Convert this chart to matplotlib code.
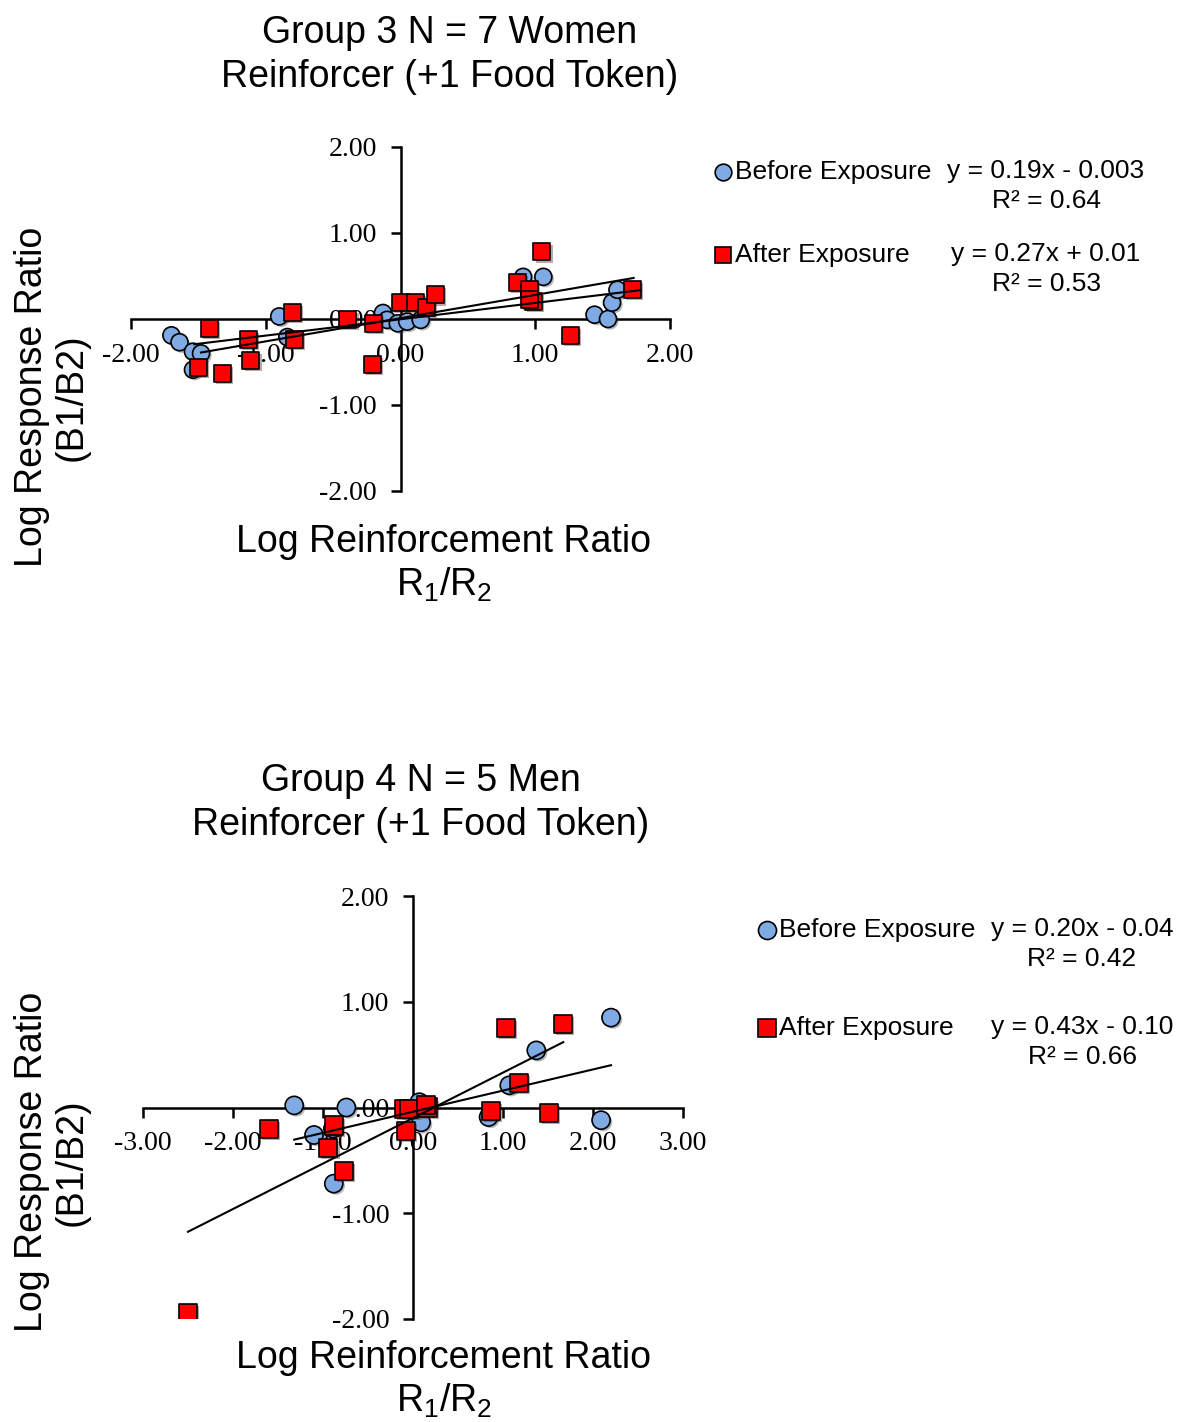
import matplotlib
matplotlib.use("Agg")
import matplotlib.pyplot as plt
import matplotlib.patheffects as pe
from matplotlib.lines import Line2D

SANS = ["Liberation Sans", "DejaVu Sans"]
SERIF = ["Liberation Serif", "DejaVu Serif"]
BLUE = "#7faae3"
RED = "#ff0000"
SHADOW = [pe.SimplePatchShadow(offset=(1.5, -1.5), alpha=0.35), pe.Normal()]

# Group 3 (women)
g3_before_x = [-1.70, -1.64, -1.54, -1.48, -1.54, -0.90, -0.84, -0.13, -0.10, -0.02, 0.05, 0.15, 0.91, 1.06, 1.44, 1.54, 1.57, 1.61]
g3_before_y = [-0.19, -0.27, -0.38, -0.40, -0.59, 0.03, -0.21, 0.07, -0.01, -0.05, -0.03, -0.01, 0.49, 0.49, 0.05, 0.00, 0.19, 0.34]
g3_after_x = [-1.42, -1.50, -1.32, -1.13, -1.11, -0.80, -0.79, -0.39, -0.20, -0.21, 0.00, 0.11, 0.19, 0.26, 1.05, 0.87, 0.96, 0.99, 0.96, 1.26, 1.72]
g3_after_y = [-0.11, -0.56, -0.63, -0.24, -0.48, 0.08, -0.24, -0.01, -0.05, -0.53, 0.19, 0.19, 0.13, 0.28, 0.78, 0.42, 0.34, 0.20, 0.23, -0.19, 0.34]
g3_before_fit = (0.19, -0.003)
g3_after_fit = (0.27, 0.01)
g3_before_eq = ["y = 0.19x - 0.003", "R\u00b2 = 0.64"]
g3_after_eq = ["y = 0.27x + 0.01", "R\u00b2 = 0.53"]
g3_before_span = [-1.53, 1.78]
g3_after_span = [-1.48, 1.73]
g3_ticks_x = [-2, -1, 0, 1, 2]
g3_ticks_y = [-2, -1, 0, 1, 2]

# Group 4 (men)
g4_before_x = [-1.32, -0.74, -1.10, -0.89, -0.88, 0.07, 0.09, 0.84, 1.07, 1.37, 2.20, 2.09]
g4_before_y = [0.02, 0.00, -0.26, -0.20, -0.72, 0.05, -0.14, -0.09, 0.21, 0.54, 0.85, -0.12]
g4_after_x = [-2.50, -1.60, -0.88, -0.94, -0.77, -0.10, -0.04, -0.08, 0.17, 0.14, 0.87, 1.03, 1.18, 1.51, 1.67]
g4_after_y = [-1.94, -0.20, -0.17, -0.38, -0.60, -0.01, -0.01, -0.22, 0.00, 0.02, -0.03, 0.75, 0.23, -0.05, 0.79]
g4_before_fit = (0.20, -0.04)
g4_after_fit = (0.43, -0.10)
g4_before_eq = ["y = 0.20x - 0.04", "R\u00b2 = 0.42"]
g4_after_eq = ["y = 0.43x - 0.10", "R\u00b2 = 0.66"]
g4_before_span = [-1.32, 2.20]
g4_after_span = [-2.50, 1.67]
g4_ticks_x = [-3, -2, -1, 0, 1, 2, 3]
g4_ticks_y = [-2, -1, 0, 1, 2]


def _panel(ax, bx, by, axx, ay, bfit, afit, bspan, aspan, xt, yt, msize):
    ax.scatter(bx, by, s=msize, marker="o", color=BLUE, edgecolor="black", linewidth=1.2, zorder=3,
               path_effects=SHADOW)
    ax.scatter(axx, ay, s=msize, marker="s", color=RED, edgecolor="black", linewidth=1.2, zorder=4,
               path_effects=SHADOW)
    for fit, span in ((bfit, bspan), (afit, aspan)):
        ys = [fit[0] * x + fit[1] for x in span]
        ax.plot(span, ys, color="black", lw=1.5, zorder=5)
    # spines through the origin (this resets ticks, so style ticks afterwards)
    ax.spines["left"].set_position(("data", 0))
    ax.spines["bottom"].set_position(("data", 0))
    ax.spines["top"].set_visible(False)
    ax.spines["right"].set_visible(False)
    for s in ("left", "bottom"):
        ax.spines[s].set_linewidth(1.8)
    ax.set_xlim(xt[0], xt[-1])
    ax.set_ylim(yt[0], yt[-1])
    ax.set_xticks(xt)
    ax.set_yticks(yt)
    ax.tick_params(direction="out", length=7, width=1.8, pad=10, labelsize=20)
    ax.set_xticklabels(["%.2f" % v for v in xt], fontdict={"family": SERIF, "size": 20})
    ax.set_yticklabels(["%.2f" % v for v in yt], fontdict={"family": SERIF, "size": 20})
    ax.patch.set_alpha(0)


def _legend(fig, x, y_before, y_after, eq_x, beq, aeq, ms):
    for y, marker, color, label, eq in ((y_before, "o", BLUE, "Before Exposure", beq),
                                        (y_after, "s", RED, "After Exposure", aeq)):
        fig.add_artist(Line2D([x / 1180], [1 - y / 1422], marker=marker, markersize=ms, color=color,
                              markeredgecolor="black", markeredgewidth=1.2, transform=fig.transFigure))
        fig.text((x + 12) / 1180, 1 - y / 1422, label, family=SANS, fontsize=19, va="center", ha="left")
        fig.text(eq_x / 1180, 1 - (y + 14) / 1422, "\n".join(eq), family=SANS, fontsize=19, va="center",
                 ha="center", multialignment="center", linespacing=1.35)


fig = plt.figure(figsize=(11.8, 14.22), dpi=100)

ax1 = fig.add_axes([131 / 1180, 1 - 491 / 1422, 539 / 1180, 344 / 1422])
_panel(ax1, g3_before_x, g3_before_y, g3_after_x, g3_after_y, g3_before_fit, g3_after_fit,
       g3_before_span, g3_after_span, g3_ticks_x, g3_ticks_y, 150)

ax2 = fig.add_axes([143 / 1180, 1 - 1319 / 1422, 540 / 1180, 423 / 1422])
_panel(ax2, g4_before_x, g4_before_y, g4_after_x, g4_after_y, g4_before_fit, g4_after_fit,
       g4_before_span, g4_after_span, g4_ticks_x, g4_ticks_y, 170)

# titles and axis labels
fig.text(450 / 1180, 1 - 55 / 1422, "Group 3 N = 7 Women\nReinforcer (+1 Food Token)", family=SANS,
         fontsize=27, ha="center", va="center", linespacing=1.3)
fig.text(421 / 1180, 1 - 803 / 1422, "Group 4 N = 5 Men\nReinforcer (+1 Food Token)", family=SANS,
         fontsize=27, ha="center", va="center", linespacing=1.3)
for ycen in (397, 1162):
    fig.text(52 / 1180, 1 - ycen / 1422, "Log Response Ratio\n(B1/B2)", family=SANS, fontsize=27,
             rotation=90, ha="center", va="center", linespacing=1.12)
for ytop in (542, 1358):
    fig.text(444 / 1180, 1 - ytop / 1422, "Log Reinforcement Ratio", family=SANS, fontsize=27,
             ha="center", va="center")
    fig.text(444 / 1180, 1 - (ytop + 43) / 1422, r"R$_\mathregular{1}$/R$_\mathregular{2}$", family=SANS,
             fontsize=27, ha="center", va="center")

_legend(fig, 723, 172, 255, 1046, g3_before_eq, g3_after_eq, 12)
_legend(fig, 767, 930, 1028, 1082, g4_before_eq, g4_after_eq, 13)

fig.savefig("out.png", dpi=100)
